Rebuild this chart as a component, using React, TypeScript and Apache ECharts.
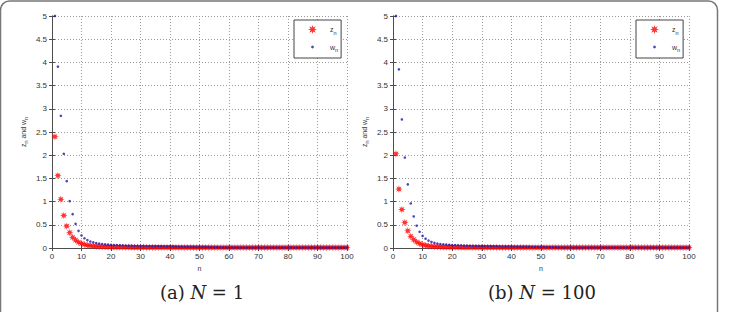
import React, { useEffect, useRef } from "react";
import * as echarts from "echarts";

// Panel (a) N = 1
const zLeft = [
  2.40, 1.56, 1.05, 0.70, 0.47, 0.33, 0.23, 0.17, 0.125, 0.095,
  0.075, 0.06, 0.05, 0.042, 0.036, 0.032, 0.028, 0.025, 0.023, 0.021,
  0.02, 0.019, 0.018, 0.017, 0.016, 0.016, 0.015, 0.015, 0.014, 0.014,
  0.014, 0.013, 0.013, 0.013, 0.013, 0.012, 0.012, 0.012, 0.012, 0.012,
  0.012, 0.011, 0.011, 0.011, 0.011, 0.011, 0.011, 0.011, 0.011, 0.011,
  0.011, 0.011, 0.010, 0.010, 0.010, 0.010, 0.010, 0.010, 0.010, 0.010,
  0.010, 0.010, 0.010, 0.010, 0.010, 0.010, 0.010, 0.010, 0.010, 0.010,
  0.010, 0.010, 0.010, 0.010, 0.010, 0.010, 0.010, 0.010, 0.010, 0.010,
  0.010, 0.010, 0.010, 0.010, 0.010, 0.010, 0.010, 0.010, 0.010, 0.010,
  0.010, 0.010, 0.010, 0.010, 0.010, 0.010, 0.010, 0.010, 0.010, 0.010,
];
const wLeft = [
  5.00, 3.91, 2.85, 2.03, 1.44, 1.01, 0.73, 0.52, 0.37, 0.27,
  0.21, 0.17, 0.14, 0.12, 0.105, 0.094, 0.085, 0.078, 0.072, 0.067,
  0.063, 0.06, 0.057, 0.055, 0.053, 0.051, 0.049, 0.048, 0.046, 0.045,
  0.044, 0.043, 0.042, 0.041, 0.040, 0.039, 0.038, 0.037, 0.036, 0.035,
  0.034, 0.033, 0.032, 0.031, 0.030, 0.029, 0.028, 0.027, 0.026, 0.025,
  0.024, 0.023, 0.022, 0.021, 0.020, 0.018, 0.016, 0.014, 0.013, 0.012,
  0.012, 0.012, 0.012, 0.012, 0.012, 0.012, 0.012, 0.012, 0.012, 0.012,
  0.011, 0.011, 0.011, 0.011, 0.011, 0.011, 0.011, 0.011, 0.011, 0.011,
  0.011, 0.011, 0.011, 0.011, 0.011, 0.011, 0.011, 0.011, 0.011, 0.011,
  0.011, 0.011, 0.011, 0.011, 0.011, 0.011, 0.011, 0.011, 0.011, 0.011,
];
// Panel (b) N = 100
const zRight = [
  2.03, 1.27, 0.83, 0.55, 0.37, 0.25, 0.18, 0.13, 0.095, 0.072,
  0.056, 0.045, 0.037, 0.031, 0.027, 0.024, 0.022, 0.02, 0.019, 0.018,
  0.017, 0.016, 0.015, 0.015, 0.014, 0.014, 0.013, 0.013, 0.013, 0.012,
  0.012, 0.012, 0.012, 0.012, 0.012, 0.011, 0.011, 0.011, 0.011, 0.011,
  0.011, 0.011, 0.011, 0.011, 0.011, 0.011, 0.010, 0.010, 0.010, 0.010,
  0.010, 0.010, 0.010, 0.010, 0.010, 0.010, 0.010, 0.010, 0.010, 0.010,
  0.010, 0.010, 0.010, 0.010, 0.010, 0.010, 0.010, 0.010, 0.010, 0.010,
  0.010, 0.010, 0.010, 0.010, 0.010, 0.010, 0.010, 0.010, 0.010, 0.010,
  0.010, 0.010, 0.010, 0.010, 0.010, 0.010, 0.010, 0.010, 0.010, 0.010,
  0.010, 0.010, 0.010, 0.010, 0.010, 0.010, 0.010, 0.010, 0.010, 0.010,
];
const wRight = [
  5.00, 3.85, 2.77, 1.95, 1.37, 0.96, 0.68, 0.48, 0.35, 0.26,
  0.20, 0.16, 0.13, 0.11, 0.096, 0.086, 0.078, 0.072, 0.067, 0.063,
  0.06, 0.057, 0.054, 0.052, 0.05, 0.048, 0.047, 0.045, 0.044, 0.043,
  0.042, 0.041, 0.040, 0.039, 0.038, 0.037, 0.036, 0.035, 0.034, 0.033,
  0.032, 0.031, 0.030, 0.029, 0.028, 0.027, 0.026, 0.025, 0.024, 0.023,
  0.022, 0.021, 0.020, 0.019, 0.018, 0.016, 0.014, 0.013, 0.012, 0.012,
  0.012, 0.012, 0.012, 0.012, 0.012, 0.012, 0.012, 0.012, 0.011, 0.011,
  0.011, 0.011, 0.011, 0.011, 0.011, 0.011, 0.011, 0.011, 0.011, 0.011,
  0.011, 0.011, 0.011, 0.011, 0.011, 0.011, 0.011, 0.011, 0.011, 0.011,
  0.011, 0.011, 0.011, 0.011, 0.011, 0.011, 0.011, 0.011, 0.011, 0.011,
];

const captions = ["(a) ", "(b) "];
const captionValues = ["1", "100"];
const seriesNames = ["z", "w"];

const STAR =
  "path://M1,0 L0.42,0.17 L0.707,0.707 L0.17,0.42 L0,1 L-0.17,0.42 L-0.707,0.707 L-0.42,0.17 L-1,0 L-0.42,-0.17 L-0.707,-0.707 L-0.17,-0.42 L0,-1 L0.17,-0.42 L0.707,-0.707 L0.42,-0.17 Z";
const SMALL_DOT =
  "path://M0,0 M10,10 M6.6,5 L6.13,6.13 L5,6.6 L3.87,6.13 L3.4,5 L3.87,3.87 L5,3.4 L6.13,3.87 Z";

const SANS = "Liberation Sans";
const SERIF = "DejaVu Serif";
const AXIS_COLOR = "#4d4d4d";
const RED = "#ff0000";
const BLUE = "#1a1aa8";

export default function App() {
  const ref = useRef<HTMLDivElement>(null);

  useEffect(() => {
    const chart = echarts.init(ref.current!, null, { renderer: "svg" });

    const grids = [
      { left: 52, top: 16, width: 295, height: 232 },
      { left: 393, top: 16, width: 296, height: 232 },
    ];

    const xAxes: any[] = [];
    const yAxes: any[] = [];
    grids.forEach((_, i) => {
      const line = { show: true, lineStyle: { color: AXIS_COLOR, width: 1 } };
      const tick = { show: true, inside: true, length: 3, lineStyle: { color: AXIS_COLOR } };
      xAxes.push({
        gridIndex: i,
        type: "value",
        min: 0,
        max: 100,
        interval: 10,
        position: "bottom",
        axisLine: line,
        axisTick: tick,
        axisLabel: { fontSize: 8, color: "#333", margin: 4, fontFamily: SANS },
        splitLine: { show: true, lineStyle: { type: [1, 2], color: "#9a9a9a", width: 1 } },
        name: "n",
        nameLocation: "middle",
        nameGap: 16,
        nameTextStyle: { fontSize: 7, color: "#333", fontFamily: SANS },
      });
      xAxes.push({
        gridIndex: i,
        type: "value",
        min: 0,
        max: 100,
        interval: 10,
        position: "top",
        axisLine: line,
        axisTick: tick,
        axisLabel: { show: false },
        splitLine: { show: false },
      });
      yAxes.push({
        gridIndex: i,
        type: "value",
        min: 0,
        max: 5,
        interval: 0.5,
        position: "left",
        axisLine: line,
        axisTick: tick,
        axisLabel: { fontSize: 8, color: "#333", margin: 5, fontFamily: SANS },
        splitLine: { show: true, lineStyle: { type: [1, 2], color: "#9a9a9a", width: 1 } },
        name: "z{s|n} and w{s|n}",
        nameLocation: "middle",
        nameGap: 23,
        nameRotate: 90,
        nameTextStyle: {
          fontSize: 7,
          color: "#333",
          fontFamily: SANS,
          rich: { s: { fontSize: 5.5, fontFamily: SANS, color: "#333", padding: [6, 0, 0, 0] } },
        },
      });
      yAxes.push({
        gridIndex: i,
        type: "value",
        min: 0,
        max: 5,
        interval: 0.5,
        position: "right",
        axisLine: line,
        axisTick: tick,
        axisLabel: { show: false },
        splitLine: { show: false },
      });
    });

    const panels = [
      [zLeft, wLeft],
      [zRight, wRight],
    ];
    const series: any[] = [];
    panels.forEach(([z, w], i) => {
      series.push({
        type: "scatter",
        name: seriesNames[0],
        xAxisIndex: 2 * i,
        yAxisIndex: 2 * i,
        symbol: STAR,
        symbolSize: 7.5,
        itemStyle: { color: RED },
        data: z.map((v, k) => [k + 1, v]),
      });
      series.push({
        type: "scatter",
        name: seriesNames[1],
        xAxisIndex: 2 * i,
        yAxisIndex: 2 * i,
        symbol: "circle",
        symbolSize: 2.6,
        itemStyle: { color: BLUE },
        data: w.map((v, k) => [k + 1, v]),
      });
    });

    const legendBase = {
      orient: "vertical",
      top: 20,
      itemWidth: 9,
      itemHeight: 9,
      itemGap: 7,
      padding: [5, 3, 5, 14],
      borderColor: "#444",
      borderWidth: 1,
      borderRadius: 0,
      backgroundColor: "#fff",
      selectedMode: false,
      data: [
        { name: seriesNames[0], icon: STAR },
        { name: seriesNames[1], icon: SMALL_DOT },
      ],
      formatter: (name: string) => `{g|}${name}{s|n}`,
      textStyle: {
        fontSize: 7,
        color: "#333",
        fontFamily: SANS,
        rich: {
          g: { width: 8, fontSize: 7 },
          s: { fontSize: 5.5, color: "#333", fontFamily: SANS, padding: [6, 0, 0, 0] },
        },
      },
    };

    const graphic: any[] = [
      {
        type: "rect",
        silent: true,
        shape: { x: 0.5, y: 1, width: 717, height: 340, r: 9 },
        style: { fill: "none", stroke: "#777", lineWidth: 1.5 },
      },
    ];
    [202, 542].forEach((cx, i) => {
      graphic.push({
        type: "text",
        x: cx,
        y: 292,
        style: {
          text: `${captions[i]}{i|N} = ${captionValues[i]}`,
          align: "center",
          verticalAlign: "middle",
          fontSize: 18,
          fontFamily: SERIF,
          fill: "#222",
          rich: {
            i: {
              fontSize: 18,
              fontStyle: "italic",
              fontFamily: SERIF,
              fill: "#222",
            },
          },
        },
      });
    });

    chart.setOption({
      animation: false,
      backgroundColor: "#fff",
      textStyle: { fontFamily: SANS },
      grid: grids,
      xAxis: xAxes,
      yAxis: yAxes,
      legend: [
        { ...legendBase, left: 294 },
        { ...legendBase, left: 636 },
      ],
      series,
      graphic,
    });

    return () => chart.dispose();
  }, []);

  return (
    <div
      ref={ref}
      style={{ position: "absolute", left: 0, top: 0, width: 729, height: 312 }}
    />
  );
}
